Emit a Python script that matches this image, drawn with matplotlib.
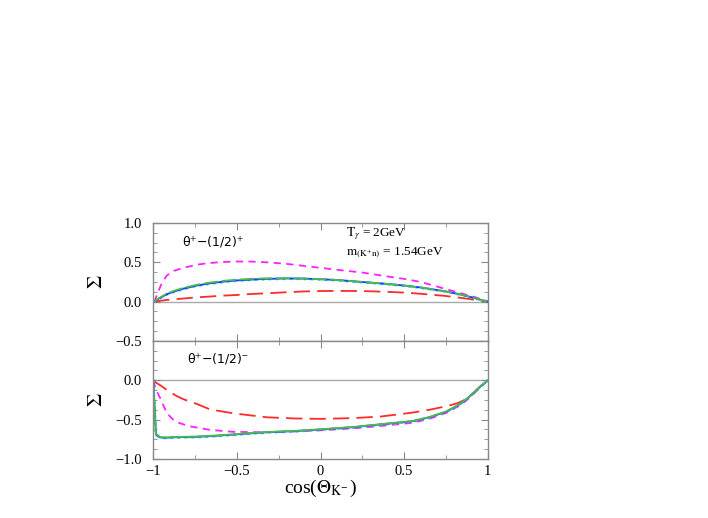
import matplotlib
matplotlib.use("Agg")
import matplotlib.pyplot as plt
from matplotlib.ticker import MultipleLocator, FixedLocator, FixedFormatter

plt.rcParams['mathtext.fontset'] = 'stix'
plt.rcParams['font.family'] = ['Liberation Serif', 'DejaVu Serif']

# ---- data: top panel (Theta+ with (1/2)+) ----
x_top = [-1, -0.99, -0.97, -0.95, -0.92, -0.88, -0.82, -0.74, -0.67, -0.58, -0.5, -0.42, -0.32,
         -0.2, -0.1, 0, 0.1, 0.25, 0.4, 0.5, 0.6, 0.75, 0.85, 0.92, 1]
top_magenta = [0, 0.02, 0.13, 0.23, 0.33, 0.39, 0.43, 0.47, 0.49, 0.505, 0.51, 0.51, 0.50,
               0.48, 0.455, 0.43, 0.405, 0.37, 0.32, 0.29, 0.25, 0.16, 0.10, 0.06, 0]
top_blue = [0, 0.01, 0.035, 0.058, 0.094, 0.125, 0.165, 0.205, 0.23, 0.255, 0.27, 0.28, 0.29,
            0.295, 0.293, 0.285, 0.275, 0.25, 0.225, 0.205, 0.18, 0.13, 0.085, 0.045, 0]
top_green = [0, 0.012, 0.04, 0.065, 0.103, 0.135, 0.175, 0.215, 0.24, 0.265, 0.28, 0.29, 0.297,
             0.298, 0.295, 0.286, 0.276, 0.25, 0.225, 0.205, 0.18, 0.13, 0.085, 0.045, 0]
top_cyan = [0, 0.008, 0.031, 0.054, 0.09, 0.121, 0.161, 0.201, 0.226, 0.251, 0.266, 0.276, 0.286,
            0.291, 0.289, 0.281, 0.271, 0.246, 0.221, 0.201, 0.176, 0.127, 0.083, 0.044, 0]
top_red = [0, 0.002, 0.008, 0.013, 0.022, 0.03, 0.04, 0.055, 0.064, 0.077, 0.085, 0.097, 0.107,
           0.12, 0.13, 0.135, 0.137, 0.135, 0.125, 0.115, 0.1, 0.072, 0.045, 0.025, 0]

# ---- data: bottom panel (Theta+ with (1/2)-) ----
x_bot = [-1, -0.984, -0.96, -0.95, -0.92, -0.9, -0.88, -0.86, -0.82, -0.78, -0.74, -0.66, -0.52,
         -0.32, -0.15, 0, 0.2, 0.36, 0.55, 0.65, 0.75, 0.82, 0.87, 0.92, 0.95, 1]
bot_red = [0, -0.03, -0.06, -0.075, -0.12, -0.15, -0.175, -0.20, -0.24, -0.27, -0.30, -0.37, -0.42,
           -0.47, -0.485, -0.49, -0.48, -0.46, -0.41, -0.375, -0.33, -0.29, -0.24, -0.15, -0.085, 0]
bot_magenta = [0, -0.12, -0.22, -0.27, -0.41, -0.46, -0.50, -0.53, -0.56, -0.585, -0.60, -0.63, -0.655,
               -0.66, -0.65, -0.635, -0.61, -0.58, -0.54, -0.49, -0.415, -0.335, -0.26, -0.16, -0.10, 0]
bot_blue = [0, -0.69, -0.724, -0.728, -0.73, -0.727, -0.725, -0.724, -0.722, -0.72, -0.718, -0.71, -0.69,
            -0.66, -0.645, -0.625, -0.595, -0.56, -0.52, -0.47, -0.40, -0.32, -0.245, -0.15, -0.09, 0]
bot_green = [0, -0.68, -0.72, -0.724, -0.726, -0.723, -0.721, -0.72, -0.718, -0.716, -0.714, -0.706, -0.686,
             -0.657, -0.642, -0.622, -0.592, -0.557, -0.517, -0.467, -0.397, -0.317, -0.242, -0.148, -0.088, 0]
bot_cyan = [0, -0.695, -0.728, -0.732, -0.734, -0.731, -0.729, -0.728, -0.726, -0.724, -0.722, -0.714, -0.694,
            -0.664, -0.649, -0.629, -0.599, -0.564, -0.524, -0.474, -0.404, -0.324, -0.249, -0.153, -0.092, 0]

x_ticks = [-1, -0.5, 0, 0.5, 1]
x_ticklabels = ['\u22121', '\u22120.5', '0', '0.5', '1']
top_yticks = [-0.5, 0.0, 0.5, 1.0]
top_yticklabels = ['\u22120.5', '0.0', '0.5', '1.0']
bot_yticks = [-1.0, -0.5, 0.0]
bot_yticklabels = ['\u22121.0', '\u22120.5', '0.0']

fig = plt.figure(figsize=(7.08, 5.18), dpi=100)
left, right = 0.2165, 0.689
ax1 = fig.add_axes([left, 0.3417, right - left, 0.5695 - 0.3417])
ax2 = fig.add_axes([left, 0.1139, right - left, 0.3417 - 0.1139])

frame_col = '#888888'
lw = 1.3

def style(ax, yticks, yticklabels, ylim, show_x):
    ax.set_xlim(-1, 1)
    ax.set_ylim(*ylim)
    ax.axhline(0, color='#aaaaaa', lw=1.0, zorder=1)
    for s in ax.spines.values():
        s.set_color(frame_col)
        s.set_linewidth(1.0)
    ax.xaxis.set_major_locator(FixedLocator(x_ticks))
    ax.xaxis.set_minor_locator(MultipleLocator(0.25))
    ax.yaxis.set_major_locator(FixedLocator(yticks))
    ax.yaxis.set_major_formatter(FixedFormatter(yticklabels))
    ax.yaxis.set_minor_locator(MultipleLocator(0.125))
    ax.tick_params(which='both', direction='in', top=True, right=True,
                   color=frame_col, labelsize=10.5)
    ax.tick_params(which='major', length=5, pad=8)
    ax.tick_params(which='minor', length=3)
    if show_x:
        ax.xaxis.set_major_formatter(FixedFormatter(x_ticklabels))
    else:
        ax.set_xticklabels([])
    ax.set_ylabel('$\\Sigma$', fontsize=15, rotation=90, labelpad=6)

style(ax1, top_yticks, top_yticklabels, (-0.5, 1.0), False)
style(ax2, bot_yticks, bot_yticklabels, (-1.0, 0.5), True)
ax2.tick_params(axis='x', which='major', pad=4)

ax1.plot(x_top, top_red, color='#ff2a2a', lw=lw, dashes=(9, 4))
ax1.plot(x_top, top_magenta, color='#ff22ff', lw=lw, dashes=(4, 3))
ax1.plot(x_top, top_cyan, color='#22ddff', lw=lw + 0.6, linestyle=':')
ax1.plot(x_top, top_blue, color='#1a3cff', lw=lw)
ax1.plot(x_top, top_green, color='#4cbb4c', lw=lw, dashes=(8, 2))

ax2.plot(x_bot, bot_red, color='#ff2a2a', lw=lw, dashes=(9, 4))
ax2.plot(x_bot, bot_magenta, color='#ff22ff', lw=lw, dashes=(4, 3))
ax2.plot(x_bot, bot_cyan, color='#22ddff', lw=lw + 0.6, linestyle=':')
ax2.plot(x_bot, bot_blue, color='#1a3cff', lw=lw)
ax2.plot(x_bot, bot_green, color='#4cbb4c', lw=lw)

ax2.set_xlabel('cos($\\Theta_{\\mathrm{K}^{-}}$)', fontsize=14, labelpad=0)

ax1.text(-0.83, 0.76, '\u03b8$^{+}$\u2212(1/2)$^{+}$', fontsize=9,
         family=['DejaVu Sans'], va='center', ha='left')
ax2.text(-0.80, 0.27, '\u03b8$^{+}$\u2212(1/2)$^{-}$', fontsize=9,
         family=['DejaVu Sans'], va='center', ha='left')
ax1.text(0.15, 0.86, '$\\mathrm{T}_{\\gamma}$ = 2GeV', fontsize=9.5, va='center', ha='left')
ax1.text(0.15, 0.625, '$\\mathrm{m}_{(\\mathrm{K}^{+}\\mathrm{n})}$ = 1.54GeV', fontsize=9.5,
         va='center', ha='left')

fig.savefig('out.png', dpi=100)
